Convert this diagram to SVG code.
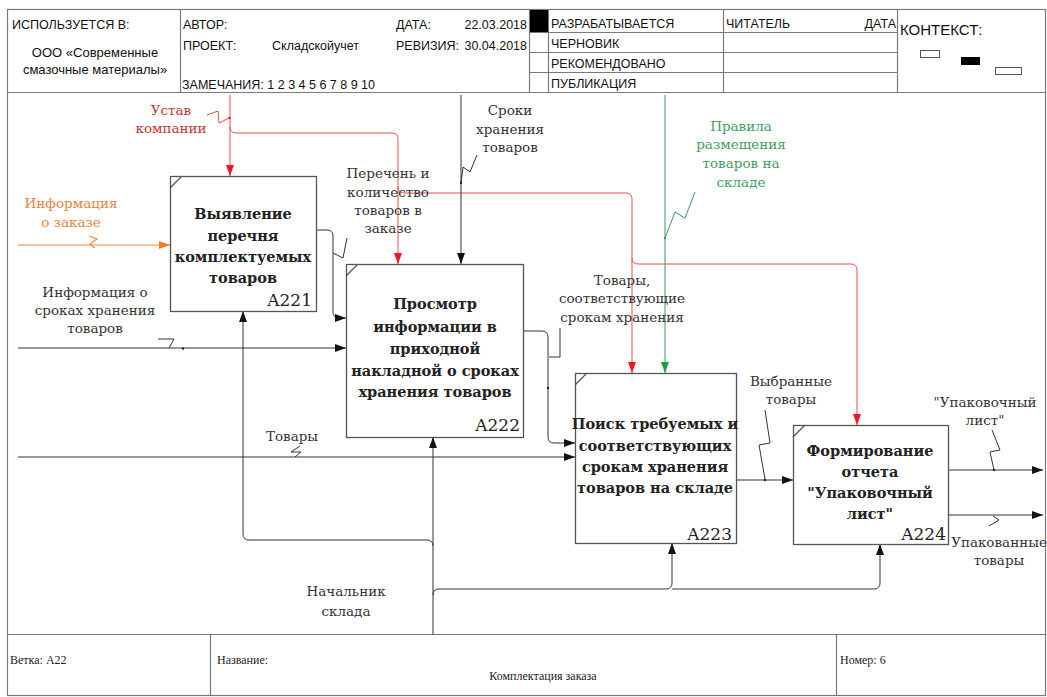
<svg xmlns="http://www.w3.org/2000/svg" width="1047" height="697" viewBox="0 0 1047 697">
  <style>
    .frame { fill: none; stroke: #7a7a7a; stroke-width: 1.2; }
    .hdr { font-family: "Liberation Sans", Arial, sans-serif; font-size: 12.5px; fill: #111; }
    .box { fill: #fff; stroke: #555; stroke-width: 1.3; }
    .corner { stroke: #555; stroke-width: 1.2; }
    .btxt { font-family: "DejaVu Serif", "Liberation Serif", serif; font-weight: bold; font-size: 14.5px; fill: #222; text-anchor: middle; }
    .bid { font-family: "DejaVu Serif", "Liberation Serif", serif; font-size: 17px; fill: #222; text-anchor: end; }
    .lbl { font-family: "DejaVu Serif", "Liberation Serif", serif; font-size: 13.5px; fill: #333; text-anchor: middle; }
    .lbl-red { fill: #c8373a; }
    .lbl-org { fill: #e8823c; }
    .lbl-grn { fill: #3f9e66; }
    .ln { fill: none; stroke: #333; stroke-width: 1; }
    .ln-red { fill: none; stroke: #e05050; stroke-width: 1; }
    .ln-org { fill: none; stroke: #f08a3c; stroke-width: 1.2; }
    .ln-grn { fill: none; stroke: #3a9a5a; stroke-width: 1; }
    .sq { fill: none; stroke: #333; stroke-width: 1; }
    .ftr { font-family: "Liberation Serif", "DejaVu Serif", serif; font-size: 12px; fill: #222; }
  </style>
  <defs>
    <marker id="arr" markerUnits="userSpaceOnUse" markerWidth="11" markerHeight="8" refX="11" refY="4" orient="auto">
      <path d="M0,0 L11,4 L0,8 z" fill="#111"/>
    </marker>
    <marker id="arr-red" markerUnits="userSpaceOnUse" markerWidth="11" markerHeight="8" refX="11" refY="4" orient="auto">
      <path d="M0,0 L11,4 L0,8 z" fill="#e8191f"/>
    </marker>
    <marker id="arr-org" markerUnits="userSpaceOnUse" markerWidth="11" markerHeight="8" refX="11" refY="4" orient="auto">
      <path d="M0,0 L11,4 L0,8 z" fill="#f07d2a"/>
    </marker>
    <marker id="arr-grn" markerUnits="userSpaceOnUse" markerWidth="11" markerHeight="8" refX="11" refY="4" orient="auto">
      <path d="M0,0 L11,4 L0,8 z" fill="#1f9e3c"/>
    </marker>
  </defs>

  <rect width="1047" height="697" fill="#fff"/>

  <!-- Title block -->
  <g id="header">
    <rect class="frame" x="7.5" y="9.5" width="1038" height="686"/>
    <line class="frame" x1="7.5" y1="92.5" x2="1045.5" y2="92.5"/>
    <line class="frame" x1="180.5" y1="9.5" x2="180.5" y2="92.5"/>
    <line class="frame" x1="529.5" y1="9.5" x2="529.5" y2="92.5"/>
    <line class="frame" x1="548.5" y1="9.5" x2="548.5" y2="92.5"/>
    <line class="frame" x1="723.5" y1="9.5" x2="723.5" y2="92.5"/>
    <line class="frame" x1="897.5" y1="9.5" x2="897.5" y2="92.5"/>
    <line class="frame" x1="529.5" y1="32.5" x2="897.5" y2="32.5"/>
    <line class="frame" x1="529.5" y1="52.5" x2="897.5" y2="52.5"/>
    <line class="frame" x1="529.5" y1="72.5" x2="897.5" y2="72.5"/>
    <rect x="530" y="10" width="18" height="22" fill="#000"/>

    <text class="hdr" x="12" y="29">ИСПОЛЬЗУЕТСЯ В:</text>
    <text class="hdr" x="95" y="57" text-anchor="middle" style="font-size:13px">ООО «Современные</text>
    <text class="hdr" x="95" y="74" text-anchor="middle" style="font-size:13px">смазочные материалы»</text>
    <text class="hdr" x="183" y="29">АВТОР:</text>
    <text class="hdr" x="183" y="50">ПРОЕКТ:</text>
    <text class="hdr" x="272" y="50">Складскойучет</text>
    <text class="hdr" x="396" y="29">ДАТА:</text>
    <text class="hdr" x="527" y="29" text-anchor="end">22.03.2018</text>
    <text class="hdr" x="396" y="50">РЕВИЗИЯ:</text>
    <text class="hdr" x="527" y="50" text-anchor="end">30.04.2018</text>
    <text class="hdr" x="182" y="89">ЗАМЕЧАНИЯ: 1 2 3 4 5 6 7 8 9 10</text>
    <text class="hdr" x="551" y="28">РАЗРАБАТЫВАЕТСЯ</text>
    <text class="hdr" x="551" y="48">ЧЕРНОВИК</text>
    <text class="hdr" x="551" y="68">РЕКОМЕНДОВАНО</text>
    <text class="hdr" x="551" y="88">ПУБЛИКАЦИЯ</text>
    <text class="hdr" x="726" y="28">ЧИТАТЕЛЬ</text>
    <text class="hdr" x="896" y="28" text-anchor="end">ДАТА</text>
    <text class="hdr" x="900" y="35" style="font-size:15px">КОНТЕКСТ:</text>
    <rect x="920.5" y="50.5" width="19" height="7" fill="#fff" stroke="#555"/>
    <rect x="961" y="57" width="19" height="8" fill="#000"/>
    <rect x="995.5" y="67.5" width="26" height="7" fill="#fff" stroke="#555"/>
  </g>

  <!-- Footer -->
  <g id="footer">
    <line class="frame" x1="7.5" y1="634.5" x2="1045.5" y2="634.5"/>
    <line class="frame" x1="210.5" y1="634.5" x2="210.5" y2="695.5"/>
    <line class="frame" x1="836.5" y1="634.5" x2="836.5" y2="695.5"/>
    <text class="ftr" x="10" y="664">Ветка: A22</text>
    <text class="ftr" x="217" y="664">Название:</text>
    <text class="ftr" x="543" y="680" text-anchor="middle">Комплектация заказа</text>
    <text class="ftr" x="840" y="664">Номер: 6</text>
  </g>

  <!-- Connectors -->
  <g id="connectors">
    <!-- Control: company charter, fanned out to all four activities -->
    <path class="ln-red" d="M230,95 V176" marker-end="url(#arr-red)"/>
    <path class="ln-red" d="M230,127 q0,6 6,6 H392 q6,0 6,6 V264" marker-end="url(#arr-red)"/>
    <path class="ln-red" d="M398,187 q0,6 6,6 H626 q6,0 6,6 V373" marker-end="url(#arr-red)"/>
    <path class="ln-red" d="M632,258 q0,6 6,6 H851 q6,0 6,6 V425" marker-end="url(#arr-red)"/>
    <path class="ln-red" d="M207,115 L218,111 L219,123 L229,118"/>
    <circle cx="229.5" cy="118" r="1.3" fill="#c8373a"/>

    <!-- Input: order information -->
    <path class="ln-org" d="M18,245 H170" marker-end="url(#arr-org)"/>
    <path class="ln-org" d="M89,236 L97,239 L90,244 L95,248"/>

    <!-- Input: storage period information -->
    <path class="ln" d="M18,348 H346" marker-end="url(#arr)"/>
    <path class="sq" d="M158,339 H174 L169,348"/>
    <circle cx="183" cy="348.5" r="1.2" fill="#222"/>

    <!-- Input: goods -->
    <path class="ln" d="M18,457 H575" marker-end="url(#arr)"/>
    <path class="sq" d="M300,446 L291,452 L301,452 L295,457"/>

    <!-- A221 -> A222 -->
    <path class="ln" d="M316,230 H327 q6,0 6,6 V312 q0,6 6,6 H346" marker-end="url(#arr)"/>
    <path class="sq" d="M333,253 L343,258 L347,238"/>

    <!-- Control: storage periods -->
    <path class="ln" d="M461,95 V264" marker-end="url(#arr)"/>
    <path class="sq" d="M477,155 L470,172 L463,167 L461,183"/>
    <circle cx="461" cy="183" r="1.2" fill="#222"/>

    <!-- Control: placement rules -->
    <path class="ln-grn" d="M665,95 V373" marker-end="url(#arr-grn)"/>
    <path class="ln-grn" d="M695,192 L685,218 L675,212 L665,238"/>
    <circle cx="665" cy="238" r="1.2" fill="#3a9a5a"/>

    <!-- A222 -> A223 -->
    <path class="ln" d="M524,331 H542 q6,0 6,6 V437 q0,6 6,6 H575" marker-end="url(#arr)"/>
    <path class="sq" d="M560,328 V357 H549"/>
    <circle cx="548" cy="388" r="1.2" fill="#222"/>

    <!-- A223 -> A224 -->
    <path class="ln" d="M736,480 H793" marker-end="url(#arr)"/>
    <path class="sq" d="M765,410 L770,443 L759,445 L765,479"/>
    <circle cx="765" cy="480" r="1.2" fill="#222"/>

    <!-- Outputs of A224 -->
    <path class="ln" d="M948,470 H1043" marker-end="url(#arr)"/>
    <path class="sq" d="M992,430 L1000,450 L990,452 L994,470"/>
    <circle cx="994" cy="470" r="1.2" fill="#222"/>
    <path class="ln" d="M948,515 H1043" marker-end="url(#arr)"/>
    <path class="sq" d="M993,516 L999,520 L989,526"/>

    <!-- Mechanism: warehouse manager -->
    <path class="ln" d="M433,635 V437" marker-end="url(#arr)"/>
    <path class="ln" d="M433,546 q0,-6 -6,-6 H249 q-6,0 -6,-6 V311" marker-end="url(#arr)"/>
    <path class="ln" d="M433,595 q0,-6 6,-6 H666 q6,0 6,-6 V543" marker-end="url(#arr)"/>
    <path class="ln" d="M672,589 H874 q6,0 6,-6 V544" marker-end="url(#arr)"/>
  </g>

  <!-- Connector labels -->
  <g id="labels">
    <text class="lbl lbl-red" x="171" y="115">Устав</text>
    <text class="lbl lbl-red" x="171" y="133">компании</text>
    <text class="lbl lbl-org" x="71" y="208">Информация</text>
    <text class="lbl lbl-org" x="71" y="227">о заказе</text>
    <text class="lbl" x="95" y="297">Информация о</text>
    <text class="lbl" x="95" y="315">сроках хранения</text>
    <text class="lbl" x="95" y="333">товаров</text>
    <text class="lbl" x="292" y="441">Товары</text>
    <text class="lbl" x="510" y="115">Сроки</text>
    <text class="lbl" x="510" y="134">хранения</text>
    <text class="lbl" x="510" y="152">товаров</text>
    <text class="lbl" x="388" y="178">Перечень и</text>
    <text class="lbl" x="388" y="197">количество</text>
    <text class="lbl" x="388" y="215">товаров в</text>
    <text class="lbl" x="388" y="233">заказе</text>
    <text class="lbl lbl-grn" x="741" y="131">Правила</text>
    <text class="lbl lbl-grn" x="741" y="149">размещения</text>
    <text class="lbl lbl-grn" x="741" y="168">товаров на</text>
    <text class="lbl lbl-grn" x="741" y="187">складе</text>
    <text class="lbl" x="622" y="285">Товары,</text>
    <text class="lbl" x="622" y="303">соответствующие</text>
    <text class="lbl" x="622" y="322">срокам хранения</text>
    <text class="lbl" x="791" y="386">Выбранные</text>
    <text class="lbl" x="791" y="404">товары</text>
    <text class="lbl" x="985" y="407">"Упаковочный</text>
    <text class="lbl" x="985" y="425">лист"</text>
    <text class="lbl" x="999" y="547">Упакованные</text>
    <text class="lbl" x="999" y="565">товары</text>
    <text class="lbl" x="346" y="596">Начальник</text>
    <text class="lbl" x="346" y="616">склада</text>
  </g>

  <!-- Activities -->
  <g id="A221">
    <rect class="box" x="170.5" y="176.5" width="146" height="135"/>
    <line class="corner" x1="170" y1="188" x2="182" y2="176"/>
    <text class="btxt" x="243" y="219">Выявление</text>
    <text class="btxt" x="243" y="241">перечня</text>
    <text class="btxt" x="243" y="262">комплектуемых</text>
    <text class="btxt" x="243" y="283">товаров</text>
    <text class="bid" x="312" y="306">A221</text>
  </g>

  <g id="A222">
    <rect class="box" x="346.5" y="264.5" width="177" height="173"/>
    <line class="corner" x1="346" y1="276" x2="358" y2="264"/>
    <text class="btxt" x="435" y="309">Просмотр</text>
    <text class="btxt" x="435" y="332">информации в</text>
    <text class="btxt" x="435" y="354">приходной</text>
    <text class="btxt" x="435" y="376">накладной о сроках</text>
    <text class="btxt" x="435" y="397">хранения товаров</text>
    <text class="bid" x="520" y="431">A222</text>
  </g>

  <g id="A223">
    <rect class="box" x="575.5" y="373.5" width="161" height="170"/>
    <line class="corner" x1="575" y1="385" x2="587" y2="373"/>
    <text class="btxt" x="655" y="429">Поиск требуемых и</text>
    <text class="btxt" x="655" y="451">соответствующих</text>
    <text class="btxt" x="655" y="472">срокам хранения</text>
    <text class="btxt" x="655" y="493">товаров на складе</text>
    <text class="bid" x="732" y="540">A223</text>
  </g>

  <g id="A224">
    <rect class="box" x="793.5" y="425.5" width="155" height="119"/>
    <line class="corner" x1="793" y1="437" x2="805" y2="425"/>
    <text class="btxt" x="870" y="456">Формирование</text>
    <text class="btxt" x="870" y="477">отчета</text>
    <text class="btxt" x="870" y="498">"Упаковочный</text>
    <text class="btxt" x="870" y="519">лист"</text>
    <text class="bid" x="946" y="540">A224</text>
  </g>
</svg>
